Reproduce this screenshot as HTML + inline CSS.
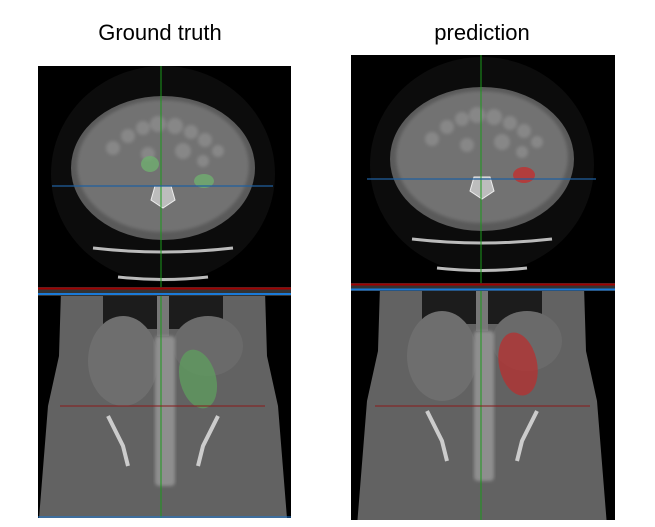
<!DOCTYPE html>
<html><head><meta charset="utf-8"><style>
body{margin:0;background:#fff;width:655px;height:527px;overflow:hidden}
svg{display:block}
text{font-family:"Liberation Sans","DejaVu Sans",sans-serif;font-size:22px;fill:#000}
</style></head><body>
<svg width="655" height="527" viewBox="0 0 655 527">
<defs>
<filter id="bl"><feGaussianBlur stdDeviation="1.5"/></filter>
<g id="axial">
  <ellipse cx="0" cy="8" rx="112" ry="108" fill="#0c0c0c"/>
  <ellipse cx="0" cy="2" rx="92" ry="72" fill="#5a5a5a"/>
  <ellipse cx="0" cy="0" rx="86" ry="66" fill="#727272" filter="url(#bl)"/>
  <g fill="#878787" filter="url(#bl)">
   <circle cx="-35" cy="-30" r="7"/><circle cx="-20" cy="-38" r="7"/><circle cx="-5" cy="-42" r="8"/><circle cx="12" cy="-40" r="8"/><circle cx="28" cy="-34" r="7"/><circle cx="42" cy="-26" r="7"/><circle cx="55" cy="-15" r="6"/><circle cx="-50" cy="-18" r="7"/><circle cx="20" cy="-15" r="8"/><circle cx="-15" cy="-12" r="7"/><circle cx="40" cy="-5" r="6"/>
  </g>
  <path d="M-8,20 L8,20 L12,34 L0,42 L-12,34 Z" fill="#bdbdbd" stroke="#eee" stroke-width="1"/>
  <path d="M-70,82 Q0,90 70,82" stroke="#bbb" stroke-width="3" fill="none"/>
  <path d="M-45,111 Q0,116 45,111" stroke="#bbb" stroke-width="3" fill="none"/>
</g>
<g id="coronal">
  <path d="M-102,-5 L102,-5 L104,60 L115,110 L125,235 L-125,235 L-115,110 L-104,60 Z" fill="#626262"/>
  <rect x="-60" y="-5" width="120" height="38" fill="#1c1c1c"/>
  <rect x="-6" y="-5" width="12" height="45" fill="#777"/>
  <ellipse cx="-40" cy="65" rx="35" ry="45" fill="#6e6e6e"/>
  <ellipse cx="45" cy="50" rx="35" ry="30" fill="#6a6a6a"/>
  <rect x="-8" y="40" width="20" height="150" fill="#8e8e8e" rx="4" filter="url(#bl)"/>
  <path d="M-55,120 L-40,150 L-35,170 M55,120 L40,150 L35,170" stroke="#ccc" stroke-width="4" fill="none"/>
</g>
</defs>
<text x="160" y="40" text-anchor="middle">Ground truth</text>
<text x="482" y="40" text-anchor="middle">prediction</text>

<g>
  <rect x="38" y="66" width="253" height="452" fill="#000"/>
  <svg x="38" y="66" width="253" height="221" overflow="hidden"><use href="#axial" x="125" y="100"/></svg>
  <svg x="38" y="296" width="253" height="222" overflow="hidden"><use href="#coronal" x="125" y="0"/></svg>
  <ellipse cx="150" cy="164" rx="9" ry="8" fill="#6fae6f" opacity="0.8"/>
  <ellipse cx="204" cy="181" rx="10" ry="7" fill="#6fae6f" opacity="0.8"/>
  <ellipse cx="198" cy="379" rx="18" ry="30" fill="#5f9f5f" opacity="0.75" transform="rotate(-15 198 379)"/>
  <line x1="161" y1="66" x2="161" y2="518" stroke="#1a9a1a" stroke-width="1"/>
  <line x1="52" y1="186" x2="273" y2="186" stroke="#1f5f9f" stroke-width="1.2"/>
  <line x1="60" y1="406" x2="265" y2="406" stroke="#8a1a1a" stroke-width="1"/>
  <rect x="38" y="287" width="253" height="9" fill="#333"/>
  <line x1="38" y1="288.5" x2="291" y2="288.5" stroke="#a00000" stroke-width="2"/>
  <line x1="38" y1="294" x2="291" y2="294" stroke="#1a7ad8" stroke-width="2"/>
  <line x1="38" y1="517" x2="291" y2="517" stroke="#1a7ad8" stroke-width="1"/>
</g>

<g>
  <rect x="351" y="55" width="264" height="465" fill="#000"/>
  <svg x="351" y="55" width="264" height="229" overflow="hidden"><use href="#axial" x="131" y="102"/></svg>
  <svg x="351" y="291" width="264" height="229" overflow="hidden"><use href="#coronal" x="131" y="0"/></svg>
  <ellipse cx="524" cy="175" rx="11" ry="8" fill="#c03030" opacity="0.8"/>
  <ellipse cx="518" cy="364" rx="19" ry="32" fill="#b83030" opacity="0.75" transform="rotate(-12 518 364)"/>
  <line x1="481" y1="55" x2="481" y2="520" stroke="#1a9a1a" stroke-width="1"/>
  <line x1="367" y1="179" x2="596" y2="179" stroke="#1f5f9f" stroke-width="1.2"/>
  <line x1="375" y1="406" x2="590" y2="406" stroke="#8a1a1a" stroke-width="1"/>
  <rect x="351" y="283" width="264" height="8" fill="#333"/>
  <line x1="351" y1="284.5" x2="615" y2="284.5" stroke="#a00000" stroke-width="2"/>
  <line x1="351" y1="289.5" x2="615" y2="289.5" stroke="#1a7ad8" stroke-width="2"/>
</g>
</svg>
</body></html>
